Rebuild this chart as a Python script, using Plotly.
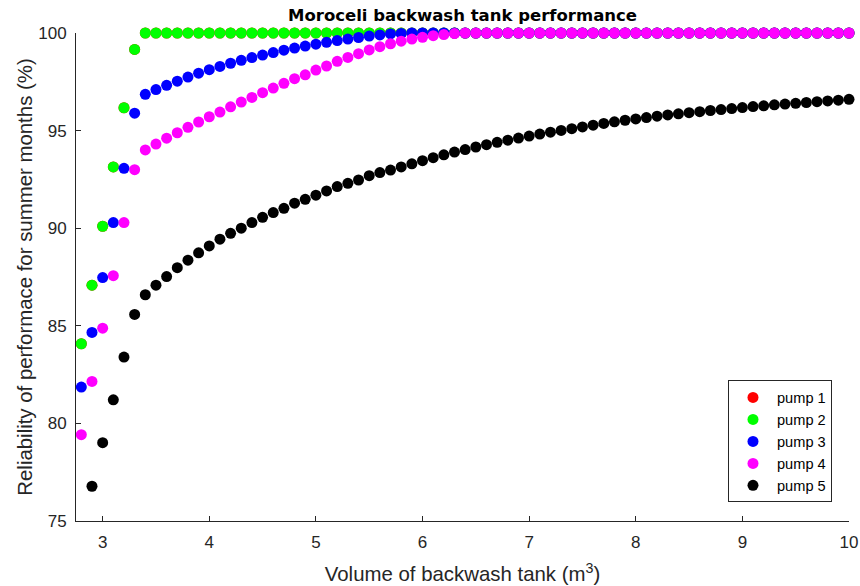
import plotly.graph_objects as go

volume = [round(2.8 + 0.1 * i, 1) for i in range(73)]  # 2.8 ... 10.0

pump2 = [84.08, 87.08, 90.10, 93.14, 96.17, 99.16] + [100.0] * 67
pump1 = list(pump2)

pump3 = [81.86, 84.66, 87.47, 90.29, 93.07, 95.89,
         96.86, 97.10, 97.32, 97.53, 97.74, 97.94, 98.12, 98.29, 98.45, 98.60,
         98.74, 98.87, 99.00, 99.12, 99.23, 99.33, 99.43, 99.52, 99.61, 99.69,
         99.77, 99.84, 99.90, 99.95, 99.98] + [100.0] * 42

pump4 = [79.42, 82.15, 84.88, 87.57, 90.29, 93.00,
         94.01, 94.31, 94.61, 94.89, 95.17, 95.44, 95.71, 95.95, 96.22, 96.46,
         96.70, 96.94, 97.18, 97.42, 97.66, 97.86, 98.10, 98.31, 98.55, 98.75,
         98.94, 99.13, 99.30, 99.45, 99.58, 99.69, 99.78, 99.86, 99.92, 99.97] + [100.0] * 37

pump5 = [None, 76.78, 79.01, 81.21, 83.40, 85.58,
         86.59, 87.08, 87.52, 87.98, 88.36, 88.74, 89.09, 89.44, 89.74, 90.00,
         90.29, 90.56, 90.80, 91.02, 91.28, 91.48, 91.69, 91.91, 92.13, 92.30,
         92.47, 92.69, 92.85, 92.98, 93.14, 93.30, 93.46, 93.61, 93.76, 93.90,
         94.03, 94.16, 94.28, 94.40, 94.51, 94.62, 94.72, 94.82, 94.92, 95.01,
         95.10, 95.19, 95.28, 95.37, 95.45, 95.53, 95.60, 95.67, 95.74, 95.80,
         95.86, 95.92, 95.97, 96.03, 96.08, 96.13, 96.18, 96.23, 96.27, 96.32,
         96.36, 96.40, 96.44, 96.48, 96.52, 96.56, 96.60]

series = [("pump 1", pump1, "#FF0000"),
          ("pump 2", pump2, "#00FF00"),
          ("pump 3", pump3, "#0000FF"),
          ("pump 4", pump4, "#FF00FF"),
          ("pump 5", pump5, "#000000")]

x_ticks = [3, 4, 5, 6, 7, 8, 9, 10]
y_ticks = [75, 80, 85, 90, 95, 100]

FONT = "Liberation Sans, Arial, Helvetica, sans-serif"
NARROW = "Liberation Sans Narrow, Arial Narrow, Liberation Sans, sans-serif"
AX = "#262626"

fig = go.Figure()
for name, vals, col in series:
    fig.add_trace(go.Scatter(
        x=volume, y=vals, mode="markers", name=name,
        marker=dict(color=col, size=11, line=dict(width=0)),
        cliponaxis=False))

fig.update_layout(
    width=860, height=586,
    margin=dict(l=76, r=11, t=33, b=64.5, autoexpand=False),
    paper_bgcolor="white", plot_bgcolor="white",
    font=dict(family=FONT, color=AX, size=14),
    title=dict(text="<b>Moroceli backwash tank performance</b>",
               xref="paper", x=0.5, xanchor="center",
               yref="container", y=1 - 15 / 586, yanchor="middle",
               font=dict(family="DejaVu Sans, Liberation Sans, sans-serif", size=16.5, color="#000000")),
    showlegend=True,
    legend=dict(x=0.978, xanchor="right", y=0.038, yanchor="bottom",
                bgcolor="white", bordercolor="#262626", borderwidth=1,
                font=dict(family=FONT, size=14.6, color="#000000"),
                itemwidth=38, tracegroupgap=0),
)

fig.update_xaxes(
    range=[2.75, 10], tickvals=x_ticks, ticktext=[str(t) for t in x_ticks],
    showgrid=False, zeroline=False, showline=True, linecolor=AX, linewidth=1,
    ticks="inside", ticklen=5, tickcolor=AX,
    tickfont=dict(family=NARROW, size=17, color=AX), ticklabelstandoff=6,
    title=dict(text="Volume of backwash tank (m<sup>3</sup>)", font=dict(size=20.4, color=AX), standoff=15),
    automargin=False, mirror=False)
fig.update_yaxes(
    range=[75, 100], tickvals=y_ticks, ticktext=[str(t) for t in y_ticks],
    showgrid=False, zeroline=False, showline=True, linecolor=AX, linewidth=1,
    ticks="inside", ticklen=5, tickcolor=AX,
    tickfont=dict(family=NARROW, size=17, color=AX), ticklabelstandoff=5,
    title=dict(text="Reliability of performace for summer months (%)", font=dict(size=20.4, color=AX), standoff=0),
    automargin=False, mirror=False)

fig.write_html(
    "out.html",
    config={"displayModeBar": False, "staticPlot": True},
    post_script="document.body.style.margin='0';document.documentElement.style.overflow='hidden';")
